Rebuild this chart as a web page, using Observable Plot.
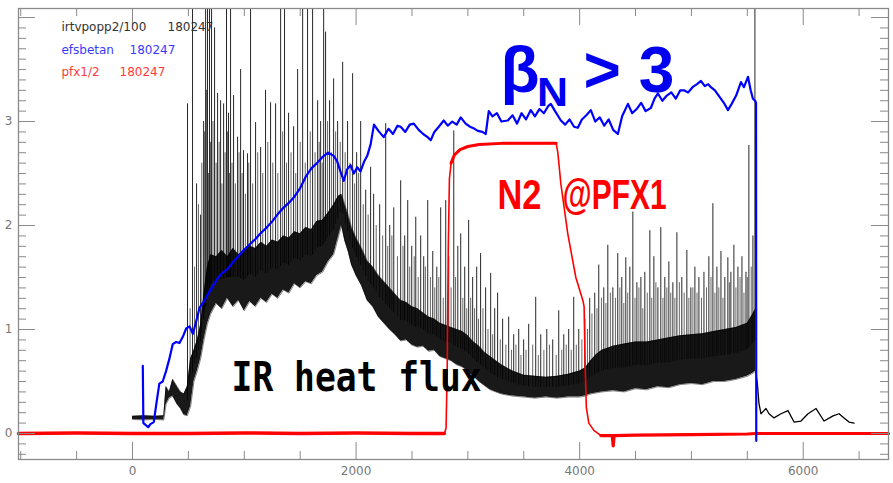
<!DOCTYPE html>
<html><head><meta charset="utf-8">
<script src="https://cdn.jsdelivr.net/npm/d3@7"></script>
<script src="https://cdn.jsdelivr.net/npm/@observablehq/plot@0.6"></script>
<style>html,body{margin:0;padding:0;background:#fff}svg{display:block}</style>
</head><body><div id="chart"></div>
<script>
// ---- IR heat flux (irtvpopp2/100): dense fluctuation band (lower/upper envelope)
const irTime = [
 0,100,200,280,300,330,360,400,430,460,490,520,550,580,610,640,670,700,750,800,
 850,900,950,1000,1050,1100,1150,1200,1250,1300,1350,1400,1450,1500,1550,1600,1650,1700,1750,1800,
 1840,1870,1900,1930,1960,2000,2050,2100,2150,2200,2250,2300,2350,2400,2450,2500,2550,2600,2650,2700,
 2750,2800,2850,2900,2950,3000,3050,3100,3150,3200,3250,3300,3400,3500,3600,3700,3800,3900,4000,4050,
 4100,4150,4200,4300,4400,4500,4600,4700,4800,4900,5000,5100,5200,5300,5400,5500,5550,5575];
const irLow = [
 0.135,0.13,0.135,0.13,0.28,0.34,0.36,0.28,0.24,0.18,0.17,0.26,0.50,0.60,0.72,0.90,1.05,1.15,1.25,1.20,
 1.30,1.22,1.28,1.18,1.27,1.22,1.30,1.26,1.34,1.30,1.38,1.35,1.44,1.40,1.46,1.44,1.52,1.55,1.65,1.72,
 1.88,2.00,1.85,1.75,1.62,1.52,1.42,1.28,1.22,1.12,1.06,1.00,0.95,0.89,0.90,0.85,0.83,0.84,0.79,0.80,
 0.74,0.72,0.70,0.66,0.64,0.60,0.55,0.50,0.46,0.42,0.40,0.38,0.36,0.35,0.34,0.35,0.34,0.35,0.35,0.36,
 0.38,0.39,0.40,0.41,0.40,0.43,0.42,0.45,0.44,0.47,0.48,0.47,0.50,0.50,0.52,0.55,0.58,0.60];
const irHigh = [
 0.165,0.17,0.165,0.17,0.45,0.40,0.52,0.45,0.40,0.38,0.45,0.72,0.80,0.90,1.05,1.35,1.60,1.72,1.70,1.76,
 1.70,1.78,1.72,1.76,1.80,1.78,1.84,1.80,1.86,1.84,1.90,1.88,1.94,1.92,1.98,1.96,2.04,2.05,2.12,2.20,
 2.28,2.30,2.20,2.10,1.98,1.88,1.78,1.66,1.60,1.52,1.46,1.40,1.34,1.28,1.26,1.22,1.20,1.16,1.12,1.10,
 1.06,1.04,1.02,1.00,0.98,0.94,0.88,0.84,0.78,0.74,0.70,0.66,0.60,0.56,0.55,0.54,0.55,0.57,0.60,0.63,
 0.70,0.76,0.80,0.84,0.86,0.88,0.88,0.90,0.92,0.94,0.95,0.96,0.98,1.00,1.02,1.06,1.15,1.20];
// after-shot tail of the IR signal
const irTailTime  = [5575,5590,5604,5622,5667,5694,5739,5801,5864,5918,5980,6043,6115,6186,6267,6321,6365,6410,6455];
const irTailValue = [0.60,0.48,0.29,0.19,0.24,0.19,0.15,0.19,0.22,0.11,0.12,0.19,0.24,0.12,0.17,0.19,0.15,0.11,0.10];
// large ELM spikes of the IR signal (peak values; 4.3 = off the top)
const spikeTime = [
 492,537,573,609,636,654,671,689,707,734,
 761,788,815,841,859,877,904,940,967,993,
 1029,1056,1101,1146,1190,1235,1280,1325,1360,1396,
 1441,1477,1522,1566,1611,1656,1683,1710,1727,1763,
 1799,1835,1880,1924,1969,2005,2041,2086,2130,2157,
 2211,2265,2301,2337,2399,2435,2462,2498,2534,2578,
 2605,2641,2686,2722,2757,2802,2829,2874,2910,2936,
 2972,3007,3043,3079,3114,3159,3204,3240,3266,3311,
 3365,3410,3455,3499,3544,3607,3652,3706,3759,3813,
 3858,3902,3947,3992,4046,4090,4135,4171,4216,4252,
 4297,4341,4377,4413,4449,4476,4512,4548,4583,4628,
 4664,4700,4726,4762,4798,4834,4870,4914,4959,4995,
 5031,5067,5112,5156,5192,5228,5264,5299,5326,5353,
 5380,5416,5452,5488,5514,5550,5568];
const spikePeak = [
 3.17,4.3,2.40,2.10,3.00,4.3,4.3,4.3,4.3,3.90,
 3.27,3.20,3.17,4.3,3.08,4.3,3.25,2.85,3.50,2.72,
 2.69,4.3,2.99,2.75,3.30,3.18,3.17,4.3,4.3,3.08,
 2.95,3.50,4.3,4.3,4.3,3.20,3.00,4.3,3.86,3.20,
 3.41,3.00,3.57,3.00,3.46,2.70,3.00,2.34,2.56,2.30,
 2.20,2.98,2.00,2.17,2.43,1.90,2.24,1.80,2.08,1.90,
 1.70,2.24,1.75,1.60,2.17,2.24,1.70,2.91,1.80,1.92,
 1.60,2.05,1.50,1.60,1.73,1.40,1.54,1.20,1.35,1.10,
 1.12,0.95,1.00,0.90,1.05,1.31,0.95,1.00,0.90,1.18,
 0.95,1.00,1.31,1.00,1.10,1.30,1.35,1.62,1.40,1.81,
 1.40,1.73,1.50,1.69,1.60,2.13,1.45,1.50,1.55,1.95,
 1.70,1.40,1.98,1.50,1.65,1.45,1.93,1.50,1.76,1.40,
 1.60,1.50,1.55,1.70,2.21,1.60,1.75,1.50,1.69,1.55,
 1.81,1.60,1.70,1.55,2.77,1.90,4.3];
// smaller, fainter ELM spikes between the large ones
const minorSpikeTime = [
 515,555,590,620,645,662,680,698,720,748,775,800,828,850,868,890,920,953,980,1010,
 1040,1075,1120,1165,1210,1255,1300,1343,1378,1418,1460,1500,1545,1590,1633,1670,1697,1745,1781,1817,1858,1902,1946,1987,2023,2064,2108,
 2180,2238,2283,2320,2370,2420,2480,2520,2556,2620,2665,2704,2740,2780,2850,2890,2955,2990,
 3025,3060,3095,3135,3180,3222,3290,3340,3390,3430,3475,3520,3580,3630,3680,3730,3790,3840,3880,3925,3970,
 4020,4070,4110,4155,4195,4235,4275,4320,4360,4395,4430,4495,4530,4565,4605,4645,4682,4745,4780,4815,4852,4892,4935,4977,5013,5050,5090,5135,5175,5210,5245,5282,5340,5398,5435,5470,5500,5535];
const minorSpikePeak = [
 1.2,1.6,2.2,2.6,2.9,3.3,2.5,2.8,3.0,2.6,2.8,2.4,2.7,2.9,2.5,2.6,2.4,2.7,2.5,2.3,
 2.6,2.4,2.7,2.5,2.8,2.6,2.5,2.9,2.6,2.7,2.5,2.8,2.6,2.9,2.7,2.8,2.6,3.0,2.7,2.9,2.8,2.7,2.6,2.4,2.5,2.2,2.1,
 2.0,1.9,1.8,1.9,1.7,1.8,1.6,1.7,1.5,1.6,1.5,1.4,1.5,1.3,1.4,1.5,1.3,1.2,
 1.3,1.2,1.1,1.2,1.0,0.95,0.9,0.85,0.8,0.85,0.75,0.8,0.85,0.75,0.8,0.85,0.75,0.8,0.85,0.8,0.85,
 0.9,1.0,1.15,1.2,1.3,1.25,1.35,1.3,1.4,1.25,1.35,1.3,1.4,1.2,1.35,1.3,1.45,1.3,1.4,1.35,1.3,1.45,1.35,1.3,1.4,1.35,1.3,1.4,1.5,1.35,1.4,1.3,1.45,1.4,1.5,1.35,1.5,1.6];
// ---- efsbetan (beta_N)
const betaTime = [
 92,97,120,140,160,190,215,240,270,300,
 330,360,390,420,450,480,510,540,570,600,
 640,680,720,760,800,850,900,950,1000,1050,
 1100,1150,1200,1250,1300,1350,1400,1450,1500,1550,
 1600,1650,1700,1750,1800,1830,1860,1890,1920,1950,
 1980,2010,2040,2070,2100,2130,2160,2200,2247,2290,
 2330,2370,2399,2440,2480,2516,2560,2600,2640,2668,
 2700,2740,2784,2820,2860,2900,2936,2980,3020,3060,
 3089,3130,3160,3187,3220,3260,3300,3357,3400,3440,
 3480,3520,3563,3600,3640,3680,3720,3742,3780,3832,
 3870,3910,3950,3984,4020,4060,4100,4140,4180,4220,
 4260,4300,4342,4380,4432,4470,4510,4550,4590,4637,
 4670,4700,4740,4780,4820,4860,4900,4933,4970,5010,
 5050,5085,5120,5150,5174,5210,5250,5290,5327,5360,
 5400,5443,5470,5506,5530,5550,5570,5578,5580];
const betaValue = [
 0.65,0.10,0.08,0.06,0.09,0.11,0.30,0.48,0.50,0.60,
 0.72,0.86,0.88,0.87,0.93,1.01,1.03,0.96,1.08,1.21,
 1.27,1.35,1.42,1.49,1.54,1.58,1.65,1.71,1.77,1.82,
 1.87,1.93,1.98,2.04,2.11,2.17,2.22,2.28,2.36,2.47,
 2.55,2.60,2.66,2.70,2.67,2.62,2.52,2.43,2.54,2.58,
 2.50,2.56,2.52,2.61,2.67,2.78,2.97,2.91,2.85,2.93,
 2.88,2.96,2.95,2.90,2.97,2.98,2.92,2.88,2.85,2.82,
 2.90,2.95,3.01,2.96,3.00,2.97,3.04,2.98,2.95,2.93,
 2.91,2.90,2.88,3.10,3.05,3.08,3.00,3.01,3.06,2.98,
 3.08,3.02,3.11,3.05,3.12,3.08,3.15,3.17,3.10,3.01,
 2.97,3.02,2.95,2.94,3.02,3.06,3.11,3.00,3.04,2.96,
 3.02,2.92,2.88,3.05,3.17,3.08,3.12,3.18,3.10,3.13,
 3.22,3.27,3.20,3.25,3.28,3.22,3.30,3.30,3.28,3.33,
 3.36,3.39,3.34,3.36,3.33,3.30,3.24,3.18,3.11,3.17,
 3.25,3.38,3.33,3.43,3.30,3.22,3.20,3.18,-0.07];
// ---- pfx1/2 (N2 puff)
const pfxTime = [
 -1020,-500,0,500,1000,1500,2000,2500,2790,2805,
 2815,2825,2835,2850,2880,2930,3000,3100,3300,3500,
 3700,3790,3805,3832,3894,3966,4029,4040,4050,4060,
 4082,4127,4190,4250,4292,4300,4308,4500,5000,5500,
 5580,6000,6500,6763];
const pfxValue = [
 0.0,0.005,0.0,0.0,0.005,0.0,0.005,0.0,0.0,0.05,
 0.60,1.80,2.45,2.60,2.68,2.73,2.76,2.78,2.79,2.79,
 2.79,2.79,2.70,2.40,1.92,1.50,1.28,1.22,0.60,0.25,
 0.10,0.03,-0.02,-0.02,-0.02,-0.12,-0.02,-0.015,-0.01,-0.005,
 0.0,0.0,0.0,0.0];
// ---- axes
const xTickLabels = [0, 2000, 4000, 6000];
const yTickLabels = [0, 1, 2, 3];
const xTickMarks = d3.range(-1000, 6764, 500);
const yTickMarks = d3.range(-2, 41).map(i => i / 10);
const legendNames = ["irtvpopp2/100", "efsbetan", "pfx1/2"];
const legendShot = ["180247", "180247", "180247"];

// ---- build
const W = 893, H = 483, mL = 18, mR = 5, mT = 8, mB = 24;
const xDom = [-1020, 6763], yDom = [-0.25, 4.087];
const pxX = (W - mL - mR) / (xDom[1] - xDom[0]);
const pxY = (H - mT - mB) / (yDom[1] - yDom[0]);

const band = irTime.map((t, i) => ({t, lo: irLow[i], hi: irHigh[i]}));
const tail = irTailTime.map((t, i) => ({t, v: irTailValue[i]}));
const mid = d3.scaleLinear().domain(irTime).range(irTime.map((t, i) => (irLow[i] + irHigh[i]) / 2));
const spikes = spikeTime.map((t, i) => ({t, v: spikePeak[i], b: mid(t)}));
const minorSpikes = minorSpikeTime.map((t, i) => ({t, v: minorSpikePeak[i], b: mid(t)}));
const beta = betaTime.map((t, i) => ({t, v: betaValue[i]}));
const pfx = pfxTime.map((t, i) => ({t, v: pfxValue[i]}));

const isMajorX = d => d % 2000 === 0;
const isMajorY = d => Math.abs(d - Math.round(d)) < 1e-9;
const LMaj = 17, LMin = 8, tickCol = "#8a8a8a";

const legendY = [3.905, 3.69, 3.475];
const legendCol = ["#333333", "#3a3aff", "#ff3a3a"];
const legendShotX = [313, -27, -116];

const chart = Plot.plot({
  width: W, height: H,
  marginLeft: mL, marginRight: mR, marginTop: mT, marginBottom: mB,
  x: {domain: xDom},
  y: {domain: yDom},
  style: {fontFamily: "DejaVu Sans", fontSize: "12px", background: "#fff"},
  marks: [
    // IR heat flux
    Plot.ruleX(minorSpikes, {x: "t", y1: "b", y2: "v", stroke: "#000", strokeWidth: 1, strokeOpacity: 0.6}),
    Plot.areaY(band, {x: "t", y1: "lo", y2: "hi", fill: "#000", fillOpacity: 0.9, curve: "linear"}),
    Plot.line(band, {x: "t", y: "hi", stroke: "#000", strokeWidth: 0.8, strokeOpacity: 0.6}),
    Plot.line(band, {x: "t", y: "lo", stroke: "#000", strokeWidth: 0.8, strokeOpacity: 0.6}),
    Plot.ruleX(spikes, {x: "t", y1: "b", y2: "v", stroke: "#000", strokeWidth: 1, strokeOpacity: 0.85, clip: true}),
    Plot.line(tail, {x: "t", y: "v", stroke: "#000", strokeWidth: 1.3}),
    // pfx1/2
    Plot.line(pfx.filter(d => d.t <= 2790), {x: "t", y: "v", stroke: "#ff0000", strokeWidth: 3.5}),
    Plot.line(pfx.filter(d => d.t >= 4190), {x: "t", y: "v", stroke: "#ff0000", strokeWidth: 3.2}),
    Plot.line(pfx, {x: "t", y: "v", stroke: "#ff0000", strokeWidth: 1.6}),
    Plot.line(pfx.filter(d => d.t >= 2840 && d.t <= 3800), {x: "t", y: "v", stroke: "#ff0000", strokeWidth: 3}),
    // efsbetan
    Plot.line(beta, {x: "t", y: "v", stroke: "#0000ff", strokeWidth: 2.2}),
    // frame ticks
    Plot.ruleX(xTickMarks, {x: d => d, y1: yDom[0], y2: d => yDom[0] + (isMajorX(d) ? LMaj : LMin) / pxY, stroke: tickCol}),
    Plot.ruleX(xTickMarks, {x: d => d, y1: yDom[1], y2: d => yDom[1] - (isMajorX(d) ? LMaj : LMin) / pxY, stroke: tickCol}),
    Plot.ruleY(yTickMarks, {y: d => d, x1: xDom[0], x2: d => xDom[0] + (isMajorY(d) ? LMaj : LMin) / pxX, stroke: tickCol}),
    Plot.ruleY(yTickMarks, {y: d => d, x1: xDom[1], x2: d => xDom[1] - (isMajorY(d) ? LMaj : LMin) / pxX, stroke: tickCol}),
    Plot.frame({stroke: tickCol, strokeWidth: 1.3}),
    Plot.axisX(xTickLabels, {anchor: "bottom", tickSize: 0, tickPadding: 7, fontSize: 12, color: "#777", label: null, tickFormat: "d"}),
    Plot.axisY(yTickLabels, {anchor: "left", tickSize: 0, tickPadding: 6, fontSize: 12, color: "#777", label: null, tickFormat: "d"}),
    // legend
    Plot.text(legendNames, {x: -636, y: (d, i) => legendY[i], text: d => d, fill: (d, i) => legendCol[i], textAnchor: "start", lineAnchor: "middle", fontSize: 12}),
    Plot.text(legendShot, {x: (d, i) => legendShotX[i], y: (d, i) => legendY[i], text: d => d, fill: (d, i) => legendCol[i], textAnchor: "start", lineAnchor: "middle", fontSize: 12}),
    // annotations
    Plot.text(["IR heat flux"], {x: 886, y: 0.407, text: d => d, fill: "#000", fontFamily: "DejaVu Sans Mono", fontWeight: "bold", fontSize: 41, textAnchor: "start", lineAnchor: "bottom"}),
    Plot.text(["N2"], {x: 3265, y: 2.155, text: d => d, fill: "#ff0000", fontFamily: "Liberation Sans", fontWeight: "bold", fontSize: 42, textAnchor: "start", lineAnchor: "bottom"}),
    Plot.text(["@PFX1"], {x: 3847, y: 2.155, text: d => d, fill: "#ff0000", fontFamily: "Liberation Sans", fontWeight: "bold", fontSize: 42, textAnchor: "start", lineAnchor: "bottom"}),
    Plot.text(["β"], {x: 3292, y: 3.282, text: d => d, fill: "#0000ee", fontFamily: "Liberation Sans", fontWeight: "bold", fontSize: 64, textAnchor: "start", lineAnchor: "bottom"}),
    Plot.text(["N"], {x: 3618, y: 3.147, text: d => d, fill: "#0000ee", fontFamily: "Liberation Sans", fontWeight: "bold", fontSize: 40, textAnchor: "start", lineAnchor: "bottom"}),
    Plot.text(["> 3"], {x: 4035, y: 3.282, text: d => d, fill: "#0000ee", fontFamily: "Liberation Sans", fontWeight: "bold", fontSize: 64, textAnchor: "start", lineAnchor: "bottom"})
  ]
});
document.getElementById("chart").appendChild(chart);

// condensed annotation lettering, as in the original
const fit = {"IR heat flux": 250, "N2": 44, "@PFX1": 104, "N": 31};
chart.querySelectorAll("text").forEach(t => {
  const k = t.textContent;
  if (k in fit) { t.setAttribute("textLength", fit[k]); t.setAttribute("lengthAdjust", "spacingAndGlyphs"); }
});
</script>
</body></html>
